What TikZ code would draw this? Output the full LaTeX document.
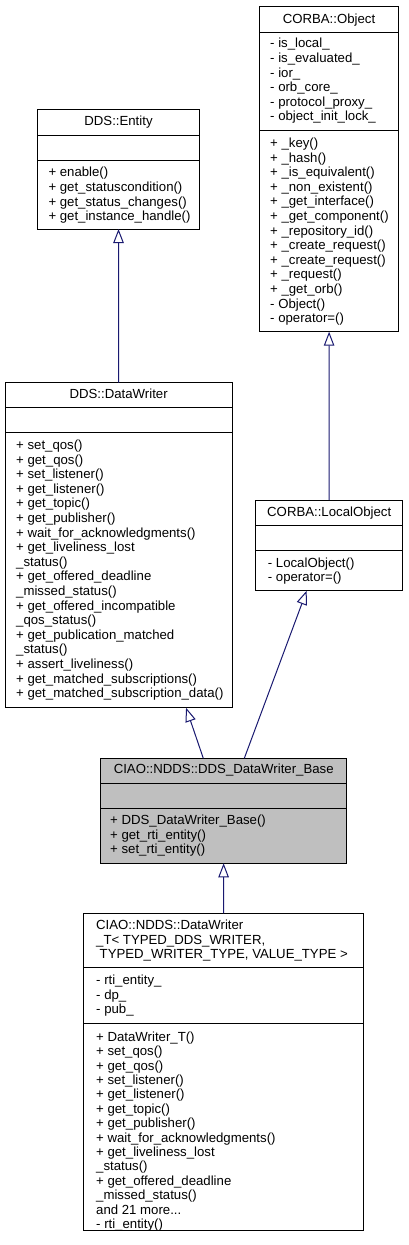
\documentclass[tikz,border=0pt]{standalone}
\usepackage{fontspec}
\setmainfont{Liberation Sans}
\usetikzlibrary{arrows.meta}
\definecolor{arrowblue}{HTML}{191970}
\definecolor{focusgray}{HTML}{BFBFBF}
\newcommand\umlfont{\fontsize{13.2}{14.6}\selectfont}
\newcommand\umllines[1]{\begin{tabular}[t]{@{}l@{}}#1\end{tabular}}
\begin{document}
\begin{tikzpicture}[x=1pt,y=-1pt,
  classbox/.style={draw=black, line width=1pt, fill=white, inner sep=0pt, outer sep=0pt},
  titletext/.style={inner sep=0pt, anchor=base, font=\umlfont},
  membertext/.style={inner sep=0pt, anchor=base west, font=\umlfont},
  divider/.style={draw=black, line width=1pt},
  inherit/.style={draw=arrowblue, line width=1pt, -{Triangle[open, length=14pt, width=10.5pt, fill=white]}}]
\useasboundingbox (0,0) rectangle (408,1245);

% DDS::Entity
\node[classbox, minimum width=161.6pt, minimum height=120pt] (ent) at (118.5,169) {};
\draw[divider] (ent.west |- 0,135) -- (ent.east |- 0,135);
\draw[divider] (ent.west |- 0,160) -- (ent.east |- 0,160);
\node[titletext] (entT) at (ent.center |- 0,125.2) {DDS::Entity};
\node[membertext] (entM) at (48.3,176.8) {\umllines{+ enable()\\+ get\_statuscondition()\\+ get\_status\_changes()\\+ get\_instance\_handle()}};

% CORBA::Object
\node[classbox, minimum width=138.6pt, minimum height=325pt] (obj) at (329,169.2) {};
\draw[divider] (obj.west |- 0,32.3) -- (obj.east |- 0,32.3);
\draw[divider] (obj.west |- 0,130.7) -- (obj.east |- 0,130.7);
\node[titletext] (objT) at (obj.center |- 0,23.5) {CORBA::Object};
\node[membertext] (objA) at (270,47.8) {\umllines{- is\_local\_\\- is\_evaluated\_\\- ior\_\\- orb\_core\_\\- protocol\_proxy\_\\- object\_init\_lock\_}};
\node[membertext] (objM) at (270,147.5) {\umllines{+ \_key()\\+ \_hash()\\+ \_is\_equivalent()\\+ \_non\_existent()\\+ \_get\_interface()\\+ \_get\_component()\\+ \_repository\_id()\\+ \_create\_request()\\+ \_create\_request()\\+ \_request()\\+ \_get\_orb()\\- Object()\\- operator=()}};

% DDS::DataWriter
\node[classbox, minimum width=227.3pt, minimum height=325pt] (dw) at (118.65,545.2) {};
\draw[divider] (dw.west |- 0,407.7) -- (dw.east |- 0,407.7);
\draw[divider] (dw.west |- 0,432.7) -- (dw.east |- 0,432.7);
\node[titletext] (dwT) at (dw.center |- 0,398.8) {DDS::DataWriter};
\node[membertext] (dwM) at (16,449.5) {\umllines{+ set\_qos()\\+ get\_qos()\\+ set\_listener()\\+ get\_listener()\\+ get\_topic()\\+ get\_publisher()\\+ wait\_for\_acknowledgments()\\+ get\_liveliness\_lost\\\_status()\\+ get\_offered\_deadline\\\_missed\_status()\\+ get\_offered\_incompatible\\\_qos\_status()\\+ get\_publication\_matched\\\_status()\\+ assert\_liveliness()\\+ get\_matched\_subscriptions()\\+ get\_matched\_subscription\_data()}};

% CORBA::LocalObject
\node[classbox, minimum width=147pt, minimum height=90.7pt] (lo) at (329.2,545.35) {};
\draw[divider] (lo.west |- 0,525) -- (lo.east |- 0,525);
\draw[divider] (lo.west |- 0,550.7) -- (lo.east |- 0,550.7);
\node[titletext] (loT) at (lo.center |- 0,516.2) {CORBA::LocalObject};
\node[membertext] (loM) at (267.7,567.2) {\umllines{- LocalObject()\\- operator=()}};

% CIAO::NDDS::DDS_DataWriter_Base
\node[classbox, fill=focusgray, minimum width=246pt, minimum height=105pt] (base) at (223.7,810.8) {};
\draw[divider] (base.west |- 0,783.3) -- (base.east |- 0,783.3);
\draw[divider] (base.west |- 0,808.3) -- (base.east |- 0,808.3);
\node[titletext] (baseT) at (base.center |- 0,773.8) {CIAO::NDDS::DDS\_DataWriter\_Base};
\node[membertext] (baseM) at (110,824.5) {\umllines{+ DDS\_DataWriter\_Base()\\+ get\_rti\_entity()\\+ set\_rti\_entity()}};

% CIAO::NDDS::DataWriter_T
\node[classbox, minimum width=280pt, minimum height=316.7pt] (dwt) at (223.3,1071.65) {};
\draw[divider] (dwt.west |- 0,967.7) -- (dwt.east |- 0,967.7);
\draw[divider] (dwt.west |- 0,1023.3) -- (dwt.east |- 0,1023.3);
\node[membertext] (dwtT) at (96,929.5) {\umllines{CIAO::NDDS::DataWriter\\\_T< TYPED\_DDS\_WRITER,\\\hspace*{3.5pt}TYPED\_WRITER\_TYPE, VALUE\_TYPE >}};
\node[membertext] (dwtA) at (96,984.5) {\umllines{- rti\_entity\_\\- dp\_\\- pub\_}};
\node[membertext, font=\fontsize{13.2}{14.4}\selectfont] (dwtM) at (96,1041.2) {\umllines{+ DataWriter\_T()\\+ set\_qos()\\+ get\_qos()\\+ set\_listener()\\+ get\_listener()\\+ get\_topic()\\+ get\_publisher()\\+ wait\_for\_acknowledgments()\\+ get\_liveliness\_lost\\\_status()\\+ get\_offered\_deadline\\\_missed\_status()\\and 21 more...\\- rti\_entity()}};

% inheritance connectors
\draw[inherit] (dw) -- (ent);
\draw[inherit] (lo) -- (obj);
\draw[inherit] ([xshift=-20.4pt]base.north) -- ([xshift=67.4pt]dw.south);
\draw[inherit] ([xshift=20.6pt]base.north) -- ([xshift=-22.5pt]lo.south);
\draw[inherit] (dwt) -- (base);
\end{tikzpicture}
\end{document}
